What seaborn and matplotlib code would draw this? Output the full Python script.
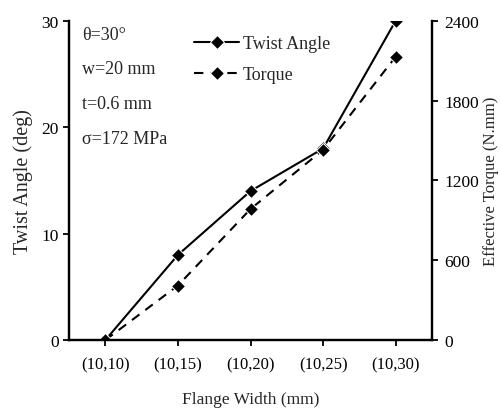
import pandas as pd
import matplotlib
matplotlib.use("Agg")
import matplotlib.pyplot as plt
import seaborn as sns

# Data
flange = ["(10,10)", "(10,15)", "(10,20)", "(10,25)", "(10,30)"]
twist_angle = [0, 8, 14, 18, 30]
torque = [0, 410, 985, 1430, 2130]

df = pd.DataFrame({"Flange": flange, "Twist": twist_angle, "Torque": torque})

sns.set_theme(style="white")
plt.rcParams["font.family"] = ["Liberation Serif", "DejaVu Serif"]
plt.rcParams["font.size"] = 12

fig, ax = plt.subplots(figsize=(5, 4.1), dpi=100)
ax2 = ax.twinx()

sns.lineplot(data=df, x="Flange", y="Twist", ax=ax, color="black", marker="D",
             markersize=7, linewidth=1.5, sort=False, label="Twist Angle", legend=False)
sns.lineplot(data=df, x="Flange", y="Torque", ax=ax2, color="black", marker="D",
             markersize=7, linewidth=1.5, linestyle=(0, (4.5, 3.5)), sort=False,
             label="Torque", legend=False)

ax.set_xlim(-0.5, 4.5)
ax.set_ylim(0, 30)
ax.set_yticks([0, 10, 20, 30])
ax2.set_ylim(0, 2400)
ax2.set_yticks([0, 600, 1200, 1800, 2400])

ax.set_xlabel("Flange Width (mm)", fontsize=12.5, labelpad=13)
ax.set_ylabel("Twist Angle (deg)", fontsize=14.5, labelpad=6)
ax2.set_ylabel("Effective Torque (N.mm)", fontsize=12, labelpad=3)

for a in (ax, ax2):
    a.spines["top"].set_visible(False)
    for s in ("left", "right", "bottom"):
        a.spines[s].set_color("black")
        a.spines[s].set_linewidth(1.6)
    a.tick_params(axis="both", direction="out", length=4, width=1.3, colors="black",
                  labelsize=12.5)
ax.tick_params(axis="x", pad=8, labelsize=12)
ax.tick_params(left=True, bottom=True)
ax2.tick_params(right=True, pad=5)

h1, l1 = ax.get_legend_handles_labels()
h2, l2 = ax2.get_legend_handles_labels()
ax.legend(h1 + h2, l1 + l2, loc="upper left", bbox_to_anchor=(0.30, 1.005),
          frameon=False, fontsize=13, handlelength=2.5, labelspacing=0.75,
          handletextpad=0.2)

notes = ["θ=30°", "w=20 mm", "t=0.6 mm", "σ=172 MPa"]
for i, txt in enumerate(notes):
    ax.text(0.037, 0.985 - i * 0.109, txt, transform=ax.transAxes, fontsize=13,
            va="top", ha="left")

fig.subplots_adjust(left=0.138, right=0.864, top=0.947, bottom=0.168)
fig.savefig("out.png", dpi=100)
